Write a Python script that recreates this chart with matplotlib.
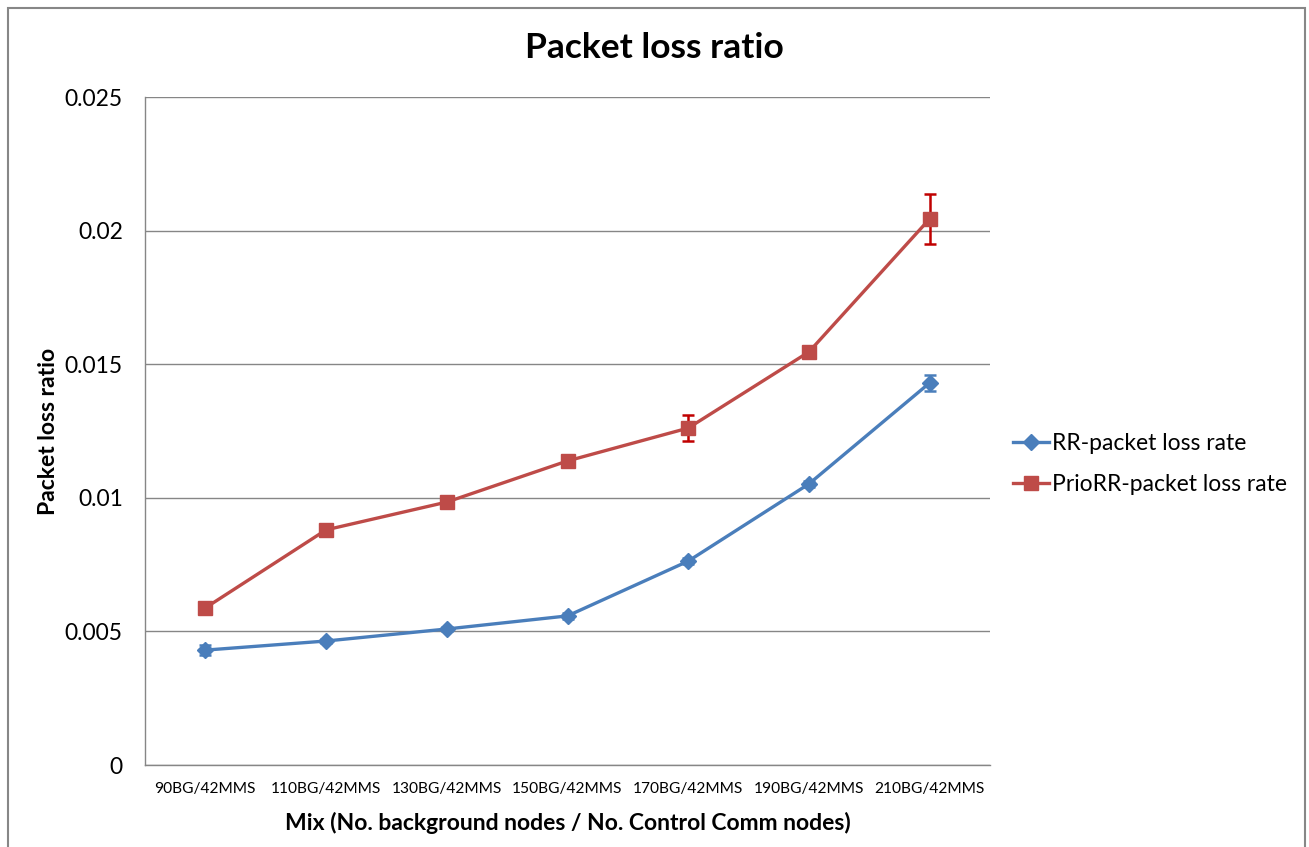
import numpy as np
import matplotlib.pyplot as plt
from matplotlib.patches import Rectangle

plt.rcParams['font.family'] = ['Lato', 'DejaVu Sans']

# Data
mixes = ["90BG/42MMS", "110BG/42MMS", "130BG/42MMS", "150BG/42MMS",
         "170BG/42MMS", "190BG/42MMS", "210BG/42MMS"]
rr_loss = [0.0043, 0.00464, 0.00509, 0.00558, 0.00763, 0.01052, 0.0143]
rr_err = [0.00018, 0.00008, 0.00008, 0.0001, 0.0001, 0.0001, 0.0003]
prio_loss = [0.00588, 0.0088, 0.00984, 0.01138, 0.01261, 0.01546, 0.02044]
prio_err = [0.0002, 0.00008, 0.00008, 0.00008, 0.00048, 0.00008, 0.00094]

blue = '#4A7EBB'
red = '#BE4B48'
grid_c = '#868686'

fig = plt.figure(figsize=(13.09, 8.47), dpi=100)
ax = fig.add_axes([145/1309, 82/847, 845/1309, 668/847])

x = np.arange(len(mixes))
ax.errorbar(x, rr_loss, yerr=rr_err, fmt='none', ecolor=blue, elinewidth=1.8,
            capsize=4, capthick=1.8, zorder=3)
ax.plot(x, rr_loss, color=blue, linewidth=2.4, marker='D', markersize=8.5,
        label='RR-packet loss rate', zorder=4)
ax.errorbar(x, prio_loss, yerr=prio_err, fmt='none', ecolor='#C00000', elinewidth=1.8,
            capsize=4, capthick=1.8, zorder=3)
ax.plot(x, prio_loss, color=red, linewidth=2.4, marker='s', markersize=10,
        label='PrioRR-packet loss rate', zorder=4)

ax.set_xlim(-0.5, len(mixes) - 0.5)
ax.set_ylim(0, 0.025)
ax.set_yticks([0, 0.005, 0.01, 0.015, 0.02, 0.025])
ax.set_yticklabels(['0', '0.005', '0.01', '0.015', '0.02', '0.025'], fontsize=16.5)
ax.set_xticks(x)
ax.set_xticklabels(mixes, fontsize=11.2)
ax.tick_params(length=0, pad=12)
ax.tick_params(axis='y', pad=16)
ax.yaxis.grid(True, color=grid_c, linewidth=1)
ax.set_axisbelow(True)
for s in ['top', 'right']:
    ax.spines[s].set_visible(False)
for s in ['left', 'bottom']:
    ax.spines[s].set_color(grid_c)
    ax.spines[s].set_linewidth(1)

ax.set_xlabel('Mix (No. background nodes / No. Control Comm nodes)', fontsize=16.5,
              fontweight='bold', labelpad=12)
ax.set_ylabel('Packet loss ratio', fontsize=16.5, fontweight='bold', labelpad=4)
fig.text(0.5, 1 - 48/847, 'Packet loss ratio', ha='center', va='center',
         fontsize=25.5, fontweight='bold')

fig.legend(loc='center left', bbox_to_anchor=(992/1309, 1 - 464/847), frameon=False,
           fontsize=16.5, handlelength=1.6, handletextpad=0.1, labelspacing=0.85)

# outer chart border
fig.patches.append(Rectangle((8/1309, -0.05), 1297/1309, 1.05 - 8/847,
                             transform=fig.transFigure, fill=False,
                             edgecolor='#878787', linewidth=1.5))

fig.savefig('out.png', dpi=100)
